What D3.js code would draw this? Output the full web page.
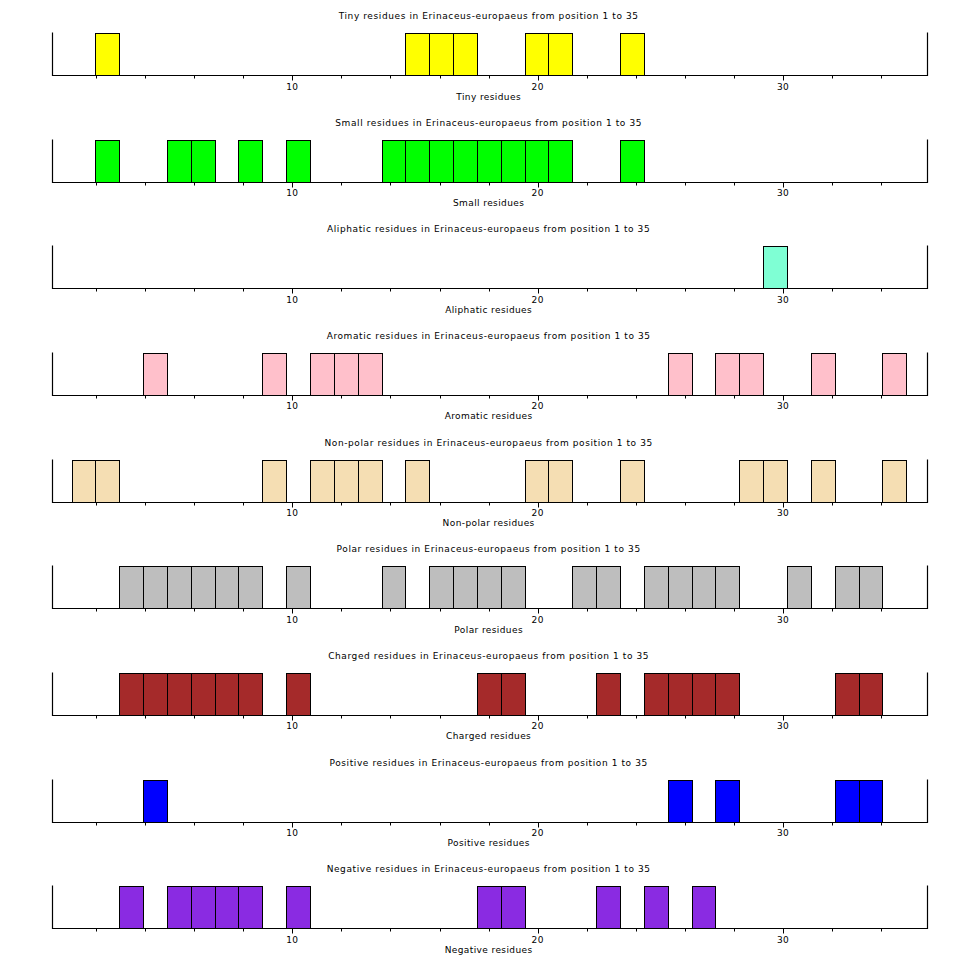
<!DOCTYPE html>
<html>
<head>
<meta charset="utf-8">
<script src="https://cdn.jsdelivr.net/npm/d3@7"></script>
<style>
  html, body { margin: 0; padding: 0; background: #fff; }
  svg { display: block; }
  text { font-family: "DejaVu Sans", sans-serif; fill: #000; }
</style>
</head>
<body>
<svg id="chart" width="960" height="960"></svg>
<script>
// ---- data ----
const species = "Erinaceus-europaeus";
const seqStart = 1;
const seqEnd = 35;
const positions = d3.range(seqStart, seqEnd + 1);

const categoryNames = ["Tiny", "Small", "Aliphatic", "Aromatic", "Non-polar", "Polar", "Charged", "Positive", "Negative"];
const categoryColors = ["#ffff00", "#00ff00", "#7fffd4", "#ffc0cb", "#f5deb3", "#bebebe", "#a52a2a", "#0000ff", "#8a2be2"];

const tinyPositions      = [2, 15, 16, 17, 20, 21, 24];
const smallPositions     = [2, 5, 6, 8, 10, 14, 15, 16, 17, 18, 19, 20, 21, 24];
const aliphaticPositions = [30];
const aromaticPositions  = [4, 9, 11, 12, 13, 26, 28, 29, 32, 35];
const nonpolarPositions  = [1, 2, 9, 11, 12, 13, 15, 20, 21, 24, 29, 30, 32, 35];
const polarPositions     = [3, 4, 5, 6, 7, 8, 10, 14, 16, 17, 18, 19, 22, 23, 25, 26, 27, 28, 31, 33, 34];
const chargedPositions   = [3, 4, 5, 6, 7, 8, 10, 18, 19, 23, 25, 26, 27, 28, 33, 34];
const positivePositions  = [4, 26, 28, 33, 34];
const negativePositions  = [3, 5, 6, 7, 8, 10, 18, 19, 23, 25, 27];

const minorTicks = d3.range(2, 35, 2);
const labelTicks = [10, 20, 30];

const categoryPositions = [tinyPositions, smallPositions, aliphaticPositions, aromaticPositions,
  nonpolarPositions, polarPositions, chargedPositions, positivePositions, negativePositions];

// ---- layout ----
const svg = d3.select("#chart");
const frameLeft = 52, frameRight = 927.3;
const firstBaseline = 75, panelStep = 106.66;
const barHeight = 42, frameHeight = 43;

const xAxisScale = d3.scaleLinear().domain([0, 35]).range([46.9, 905.8]);
const xBar = d3.scaleBand().domain(positions).range([71.5, 906.2]).padding(0);
const bw = xBar.bandwidth();

categoryNames.forEach((name, i) => {
  const base = firstBaseline + i * panelStep;
  const y = d3.scaleLinear().domain([0, 1]).range([base, base - barHeight]);
  const g = svg.append("g");
  const present = new Set(categoryPositions[i]);
  const values = positions.map(p => ({ pos: p, v: present.has(p) ? 1 : 0 }));

  // bars
  g.selectAll("rect").data(values.filter(d => d.v > 0)).join("rect")
    .attr("x", d => Math.round(xBar(d.pos)) + 0.5)
    .attr("y", d => Math.round(y(d.v)) + 0.5)
    .attr("width", d => Math.round(xBar(d.pos) + bw) - Math.round(xBar(d.pos)))
    .attr("height", d => Math.round(y(0)) - Math.round(y(d.v)))
    .attr("fill", categoryColors[i])
    .attr("stroke", "#000")
    .attr("stroke-width", 1);

  const by = Math.round(base) + 0.5;
  // frame: baseline + side lines
  g.append("path")
    .attr("d", `M${Math.round(frameLeft)+0.5},${by - frameHeight}V${by}H${Math.round(frameRight)+0.5}V${by - frameHeight}`)
    .attr("fill", "none").attr("stroke", "#000").attr("stroke-width", 1.2);

  // ticks
  g.selectAll("line.tick").data(minorTicks).join("line")
    .attr("class", "tick")
    .attr("x1", d => Math.round(xAxisScale(d)) + 0.5)
    .attr("x2", d => Math.round(xAxisScale(d)) + 0.5)
    .attr("y1", by)
    .attr("y2", d => by + (labelTicks.includes(d) ? 5 : 3))
    .attr("stroke", "#000").attr("stroke-width", 1);

  g.selectAll("text.tl").data(labelTicks).join("text")
    .attr("class", "tl")
    .attr("x", d => xAxisScale(d))
    .attr("y", base + 14.5)
    .attr("text-anchor", "middle")
    .attr("font-size", "9px")
    .attr("letter-spacing", "0.4px")
    .text(d => d);

  // title
  g.append("text")
    .attr("x", (frameLeft + frameRight) / 2 - 1)
    .attr("y", base - 56)
    .attr("text-anchor", "middle")
    .attr("font-size", "9px")
    .attr("letter-spacing", "0.6px")
    .text(`${name} residues in ${species} from position ${seqStart} to ${seqEnd}`);

  // axis title
  g.append("text")
    .attr("x", (frameLeft + frameRight) / 2 - 1)
    .attr("y", base + 24.5)
    .attr("text-anchor", "middle")
    .attr("font-size", "9px")
    .attr("letter-spacing", "0.4px")
    .text(`${name} residues`);
});
</script>
</body>
</html>
